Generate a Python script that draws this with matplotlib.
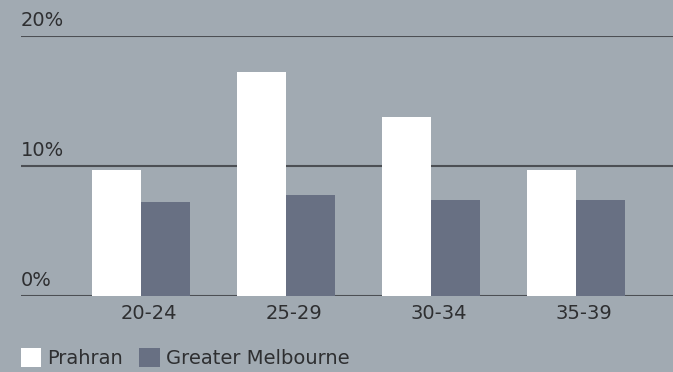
"""Age distribution, Prahran vs Greater Melbourne (20-39)."""

import matplotlib
matplotlib.use('Agg')
import matplotlib.pyplot as plt
import matplotlib.transforms as mtransforms
import numpy as np

categories = ['20-24', '25-29', '30-34', '35-39']
prahran = [9.7, 17.2, 13.8, 9.7]
greater_melbourne = [7.2, 7.8, 7.4, 7.4]
y_ticks = [0, 10, 20]
y_tick_labels = ['0%', '10%', '20%']
series_names = ['Prahran', 'Greater Melbourne']

BG = '#a1aab2'
GREY_BAR = '#687083'
TEXT = '#2e2f31'
LINE = '#4c4f54'

plt.rcParams['font.family'] = ['DejaVu Sans']

fig = plt.figure(figsize=(6.73, 3.72), dpi=100, facecolor=BG)
ax = fig.add_axes([21 / 673, 76 / 372, 652 / 673, 260 / 372])
ax.set_facecolor(BG)

x = np.arange(len(categories))
width = 49 / 145
ax.bar(x - width / 2, prahran, width, color='white', label=series_names[0], zorder=3)
ax.bar(x + width / 2, greater_melbourne, width, color=GREY_BAR,
       label=series_names[1], zorder=3)

ax.set_xlim(-120 / 145, 532 / 145)
ax.set_ylim(0, 20)

for t in y_ticks:
    ax.axhline(t, color=LINE, linewidth=1.5, zorder=2, snap=False)
for t, lab in zip(y_ticks, y_tick_labels):
    ax.annotate(lab, xy=(0, t), xycoords=('axes fraction', 'data'),
                xytext=(0, 4.5), textcoords='offset points',
                ha='left', va='bottom', fontsize=14, color=TEXT)

ax.set_yticks([])
ax.set_xticks(x)
ax.set_xticklabels(categories, fontsize=14, color=TEXT)
ax.tick_params(axis='x', length=0, pad=6)
shift = mtransforms.ScaledTranslation(8 / 100, 0, fig.dpi_scale_trans)
for lab in ax.get_xticklabels():
    lab.set_transform(lab.get_transform() + shift)

for s in ax.spines.values():
    s.set_visible(False)

leg = ax.legend(loc='lower left', bbox_to_anchor=(17 / 673, 0), bbox_transform=fig.transFigure,
                ncol=2, frameon=False, fontsize=14, handlelength=1.05, handleheight=1.1,
                handletextpad=0.3, columnspacing=0.85, borderaxespad=0.0, borderpad=0.2)
for t in leg.get_texts():
    t.set_color(TEXT)

fig.savefig('out.png', dpi=100, facecolor=BG)
